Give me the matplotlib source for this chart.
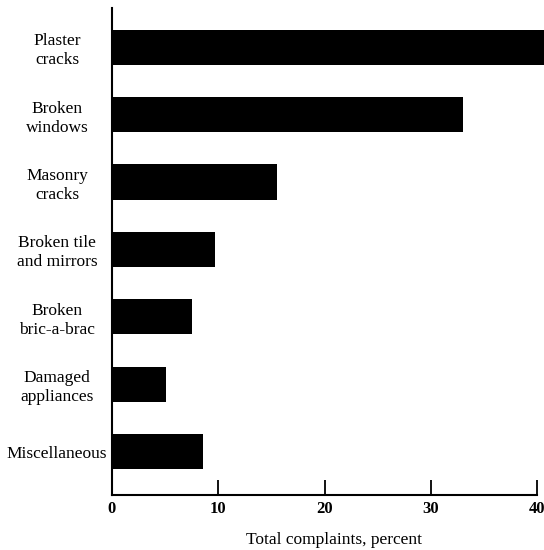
import matplotlib
matplotlib.use("Agg")
import matplotlib.pyplot as plt

categories = ["Plaster\ncracks", "Broken\nwindows", "Masonry\ncracks",
              "Broken tile\nand mirrors", "Broken\nbric-a-brac",
              "Damaged\nappliances", "Miscellaneous"]
values = [41.0, 33.0, 15.5, 9.7, 7.5, 5.1, 8.6]
xticks = [0, 10, 20, 30, 40]

plt.rcParams['font.family'] = ['Liberation Serif', 'DejaVu Serif']

fig = plt.figure(figsize=(5.44, 5.5), dpi=100)
ax = fig.add_axes([112/544, 1-495/550, (537-112)/544, (495-8)/550])

ypos = list(range(len(categories)))
ax.barh(ypos, values, height=0.52, color='black', clip_on=False)
ax.set_ylim(6.64, -0.58)
ax.set_xlim(0, 40)
ax.set_xticks(xticks)
ax.set_xticklabels([str(t) for t in xticks], fontsize=12, fontweight='bold')
ax.set_yticks(ypos)
ax.set_yticklabels(categories, fontsize=12.5, ha='center',
                   multialignment='center', linespacing=1.25)
ax.tick_params(axis='y', length=0, pad=39.5)
ax.tick_params(axis='x', direction='in', length=11, width=1.3, pad=4)
ax.spines['top'].set_visible(False)
ax.spines['right'].set_visible(False)
ax.spines['left'].set_linewidth(1.5)
ax.spines['bottom'].set_linewidth(1.5)
ax.set_xlabel("Total complaints, percent", fontsize=12.5)
ax.xaxis.set_label_coords((334-112)/425, -(540-495)/487, transform=ax.transAxes)
ax.xaxis.label.set_va('center')

fig.savefig("out.png", dpi=100)
